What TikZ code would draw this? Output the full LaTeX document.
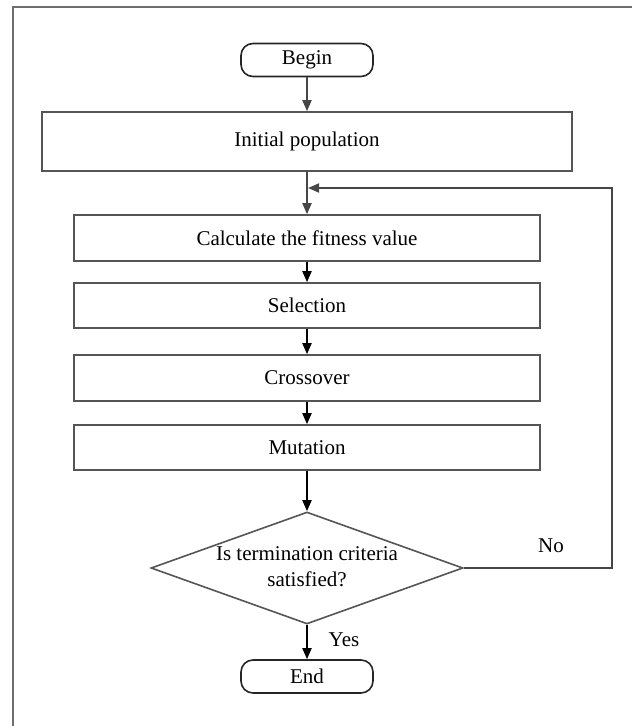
\documentclass[tikz,border=0pt]{standalone}
\usepackage{fontspec}
\setmainfont{Liberation Serif}
\usetikzlibrary{arrows.meta,shapes.geometric}
\definecolor{boxgray}{RGB}{85,85,85}
\definecolor{framegray}{RGB}{110,110,110}
\definecolor{arrgray}{RGB}{70,70,70}
\tikzset{
  procbox/.style={draw=boxgray, line width=1.6pt, rectangle, minimum height=45pt, inner sep=0pt, font=\fontsize{21}{26}\selectfont},
  termbox/.style={draw=black!85, line width=1.6pt, rectangle, rounded corners=12pt, minimum width=132pt, minimum height=33pt, inner sep=0pt, font=\fontsize{21}{26}\selectfont},
  flow/.style={line width=1.8pt, -{Triangle[length=11pt,width=9pt]}},
  lbl/.style={font=\fontsize{21}{26}\selectfont, inner sep=0pt}
}
\begin{document}
\begin{tikzpicture}[x=1pt,y=-1pt]
\useasboundingbox (0,0) rectangle (632,726);
\begin{scope}
\clip (0,0) rectangle (632,726);
\draw[framegray, line width=1.8pt] (13,740) -- (13,7) -- (660,7);
\end{scope}

\node[termbox] (begin) at (307,60) {Begin};
\node[procbox, minimum width=530pt, minimum height=59pt] (init) at (307,141.5) {Initial population};
\node[procbox, minimum width=466pt, minimum height=46pt] (calc) at (307,238) {Calculate the fitness value};
\node[procbox, minimum width=466pt] (sel) at (307,305.5) {Selection};
\node[procbox, minimum width=466pt, minimum height=46pt] (cross) at (307,378) {Crossover};
\node[procbox, minimum width=466pt] (mut) at (307,447.5) {Mutation};
\node[draw=boxgray, line width=1.6pt, diamond, minimum width=312pt, minimum height=112pt, inner sep=0pt, aspect=2.79] (dec) at (307,568) {};
\node[lbl, align=center] (dectext) at (307,567) {Is termination criteria\\satisfied?};
\node[termbox] (end) at (307,676.5) {End};

\coordinate (loopR) at (612,568);
\coordinate (loopT) at (612,188);
\coordinate (loopE) at (308,188);

\draw[flow, arrgray] (begin.south) -- (init.north);
\draw[flow, arrgray] (init.south) -- (calc.north);
\draw[line width=1.8pt, arrgray, -{Triangle[length=11pt,width=9pt]}] (dec.east) -- (loopR) -- (loopT) -- (loopE);
\draw[flow, black] (calc.south) -- (sel.north);
\draw[flow, black] (sel.south) -- (cross.north);
\draw[flow, black] (cross.south) -- (mut.north);
\draw[flow, black] (mut.south) -- (dec.north);
\draw[flow, black] (dec.south) -- (end.north);

\node[lbl] (no) at (551,546) {No};
\node[lbl] (yes) at (344,640) {Yes};
\end{tikzpicture}
\end{document}
